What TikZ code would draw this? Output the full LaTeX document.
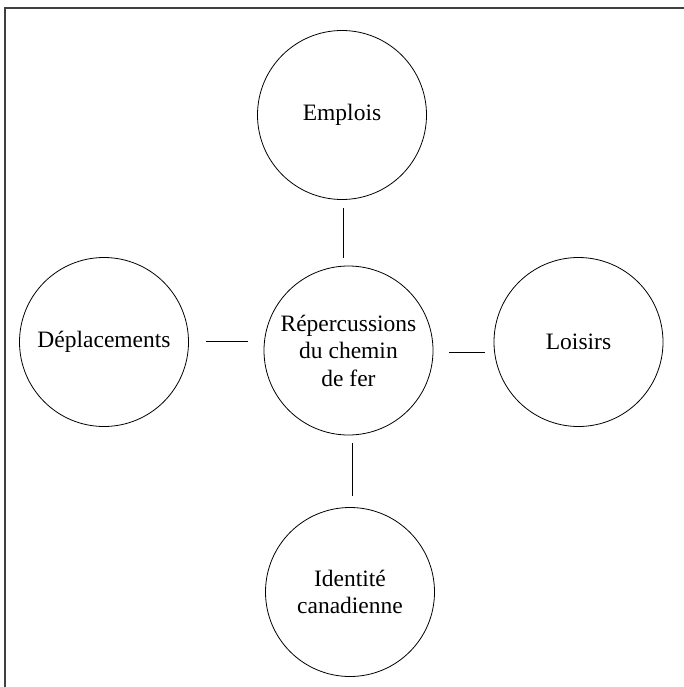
\documentclass[tikz,border=0pt]{standalone}
\usepackage{fontspec}
\setmainfont{Liberation Serif}
\begin{document}
\begin{tikzpicture}[x=1pt,y=-1pt,
  bubble/.style={circle,draw=black,line width=0.8pt,minimum size=169pt,inner sep=0pt,
    align=center,font=\fontsize{23.5}{27.5}\selectfont},
  link/.style={draw=black,line width=0.8pt},
  frame/.style={draw=black!75,line width=1.1pt}]
\useasboundingbox (0,0) rectangle (684,687);
\draw[frame] (5,690) -- (5,8) -- (690,8);
\node[bubble] (emp) at (342,115) {Emplois};
\node[bubble] (ctr) at (348.5,350.5) {Répercussions\\du chemin\\de fer};
\node[bubble] (dep) at (104,342) {Déplacements};
\node[bubble] (loi) at (578.5,342) {Loisirs};
\node[bubble] (ide) at (350,592) {Identité\\canadienne};
\draw[link] ([xshift=1pt,yshift=-8.5pt]emp.south) -- ([xshift=-5.5pt,yshift=8pt]ctr.north);
\draw[link] ([xshift=17.5pt,yshift=1pt]dep.east) -- ([xshift=-16pt,yshift=9.5pt]ctr.west);
\draw[link] ([xshift=16pt,yshift=-2pt]ctr.east) -- ([xshift=-9pt,yshift=-10.5pt]loi.west);
\draw[link] ([xshift=3.5pt,yshift=-8pt]ctr.south) -- ([xshift=2pt,yshift=11.5pt]ide.north);
\end{tikzpicture}
\end{document}
